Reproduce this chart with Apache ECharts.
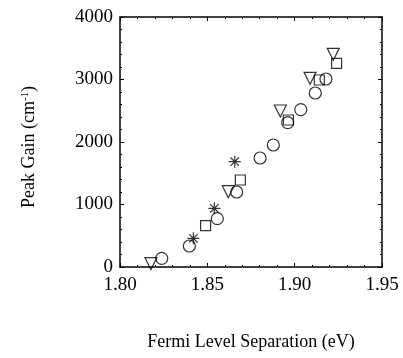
<!DOCTYPE html>
<html>
<head>
<meta charset="utf-8">
<script src="https://cdn.jsdelivr.net/npm/echarts@6/dist/echarts.min.js"></script>
<style>
  html, body { margin: 0; padding: 0; background: #fff; }
  #main { width: 403px; height: 358px; }
</style>
</head>
<body>
<div id="main"></div>
<script>
// values: [Fermi level separation (eV), peak gain (cm^-1)]
const circles = [
  [1.8239, 139], [1.8397, 336], [1.8557, 773], [1.8668, 1200], [1.8802, 1744],
  [1.8878, 1952], [1.8960, 2309], [1.9035, 2517], [1.9118, 2784], [1.9179, 3008]
];
const squares = [
  [1.8490, 661], [1.8689, 1392], [1.8964, 2352], [1.9141, 2992], [1.9240, 3259]
];
const triangles = [
  [1.8177, 55], [1.8620, 1205], [1.8918, 2496], [1.9088, 3019], [1.9221, 3403]
];
const stars = [
  [1.8420, 459], [1.8540, 939], [1.8657, 1685]
];
const xTicks = [1.80, 1.85, 1.90, 1.95];
const yTicks = [0, 1000, 2000, 3000, 4000];

const font = "'Liberation Serif', 'Times New Roman', serif";
const starPath = 'path://M0,-1L0,1M-1,0L1,0M-0.7,-0.7L0.7,0.7M-0.7,0.7L0.7,-0.7';

const myChart = echarts.init(document.getElementById('main'));

// mirrored axes on top/right only carry inward ticks
function frameAxis(pos, isX) {
  const a = {
    type: 'value',
    position: pos,
    min: isX ? xTicks[0] : yTicks[0],
    max: isX ? xTicks[xTicks.length - 1] : yTicks[yTicks.length - 1],
    interval: isX ? 0.05 : 1000,
    axisLine: { show: true, onZero: false, lineStyle: { color: '#000', width: 1.5 } },
    axisTick: { show: true, inside: true, length: 4, lineStyle: { color: '#000' } },
    minorTick: { show: true, splitNumber: 5, length: 2, lineStyle: { color: '#000' } },
    axisLabel: { show: false },
    splitLine: { show: false }
  };
  return a;
}

const xMain = frameAxis('bottom', true);
xMain.axisLabel = {
  show: true, color: '#000', fontFamily: font, fontSize: 19, margin: 9,
  formatter: v => v.toFixed(2)
};
xMain.name = 'Fermi Level Separation (eV)';
xMain.nameLocation = 'middle';
xMain.nameGap = 66;
xMain.nameTextStyle = { color: '#000', fontFamily: font, fontSize: 18 };

const yMain = frameAxis('left', false);
yMain.axisLabel = {
  show: true, color: '#000', fontFamily: font, fontSize: 19, margin: 7,
  formatter: v => String(v)
};
yMain.name = 'Peak Gain (cm{sup|-1})';
yMain.nameLocation = 'middle';
yMain.nameGap = 82;
yMain.nameTextStyle = {
  color: '#000', fontFamily: font, fontSize: 18, padding: [0, 10, 0, 0],
  rich: { sup: { fontFamily: font, fontSize: 11, verticalAlign: 'top', color: '#000' } }
};

function scatter(data, symbol, size, rotate) {
  return {
    type: 'scatter',
    data: data,
    symbol: symbol,
    symbolSize: size,
    symbolRotate: rotate || 0,
    itemStyle: { color: 'rgba(255,255,255,0)', borderColor: '#000', borderWidth: 1.2 },
    emphasis: { disabled: true },
    z: 3
  };
}

myChart.setOption({
  animation: false,
  grid: { left: 120, right: 21, top: 17, bottom: 91 },
  xAxis: [xMain, frameAxis('top', true)],
  yAxis: [yMain, frameAxis('right', false)],
  series: [
    scatter(circles, 'circle', 12),
    scatter(squares, 'rect', 10),
    scatter(triangles, 'triangle', 12, 180),
    scatter(stars, starPath, 12)
  ]
});
</script>
</body>
</html>
